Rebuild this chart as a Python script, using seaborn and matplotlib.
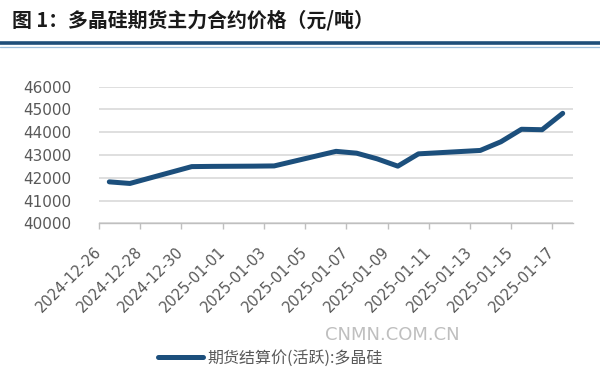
import matplotlib
matplotlib.use("Agg")
import matplotlib.pyplot as plt
import matplotlib.dates as mdates
from matplotlib.lines import Line2D
import seaborn as sns
import pandas as pd

# ---- data ----
dates = ["2024-12-26", "2024-12-27", "2024-12-30", "2024-12-31", "2025-01-02",
         "2025-01-03", "2025-01-06", "2025-01-07", "2025-01-08", "2025-01-09",
         "2025-01-10", "2025-01-13", "2025-01-14", "2025-01-15", "2025-01-16",
         "2025-01-17"]
prices = [41820, 41750, 42490, 42500, 42510,
          42520, 43160, 43080, 42830, 42510,
          43050, 43200, 43580, 44130, 44110,
          44830]
tick_labels = ["2024-12-26", "2024-12-28", "2024-12-30", "2025-01-01",
               "2025-01-03", "2025-01-05", "2025-01-07", "2025-01-09",
               "2025-01-11", "2025-01-13", "2025-01-15", "2025-01-17"]
y_ticks = [40000, 41000, 42000, 43000, 44000, 45000, 46000]
series_name = "期货结算价(活跃):多晶硅"
title = "图 1：多晶硅期货主力合约价格（元/吨）"

sns.set_theme(style="white")
plt.rcParams["font.family"] = ["Noto Sans CJK SC", "DejaVu Sans"]

fig = plt.figure(figsize=(6.0, 3.87), dpi=100)
ax = fig.add_axes([0.165, 0.423, 0.79, 0.353])

df = pd.DataFrame({"date": pd.to_datetime(dates), "price": prices})
line_color = "#1c4f7c"
sns.lineplot(data=df, x="date", y="price", ax=ax, color=line_color,
             linewidth=3.6, label=series_name, legend=False)

# axes
half = pd.Timedelta(hours=12)
tick_pos = mdates.date2num(pd.to_datetime(tick_labels) - half)
ax.set_xticks(tick_pos)
ax.set_xticklabels(tick_labels, rotation=45, ha="right", va="center",
                   rotation_mode="anchor", color="#595959", fontsize=10.5,
                   family=["DejaVu Sans"])
ax.set_xlim(mdates.date2num(pd.Timestamp(tick_labels[0]) - half),
            mdates.date2num(pd.Timestamp(tick_labels[-1]) + half))
ax.set_ylim(y_ticks[0], y_ticks[-1])
ax.set_yticks(y_ticks)
ax.set_yticklabels([str(v) for v in y_ticks], color="#595959", fontsize=11,
                   family=["DejaVu Sans"])
ax.set_xlabel("")
ax.set_ylabel("")
ax.grid(axis="y", color="#d9d9d9", linewidth=1.2)
ax.grid(axis="x", visible=False)
for s in ["top", "right", "left"]:
    ax.spines[s].set_visible(False)
ax.spines["bottom"].set_color("#bfbfbf")
ax.spines["bottom"].set_linewidth(1.0)
ax.tick_params(axis="x", direction="out", length=4, width=1, color="#bfbfbf", pad=15, bottom=True)
ax.tick_params(axis="y", length=0, pad=20)

# title and rule
fig.text(0.02, 1 - 20 / 387, title, fontsize=14.3, fontweight="bold",
         color="#1a1a1a", va="center", ha="left")
fig.add_artist(Line2D([0, 1], [1 - 43.3 / 387] * 2, color="#1f4e79", linewidth=2.6,
                      transform=fig.transFigure))
fig.add_artist(Line2D([0, 1], [1 - 47 / 387] * 2, color="#9dbfdc", linewidth=0.9,
                      transform=fig.transFigure))

# legend
h = [Line2D([], [], color=line_color, linewidth=3.6)]
fig.legend(h, [series_name], loc="center left", bbox_to_anchor=(158 / 600, 1 - 358 / 387),
           frameon=False, fontsize=11.5, handlelength=2.8, handletextpad=0.3,
           borderpad=0, borderaxespad=0, labelcolor="#595959")

# watermark
fig.text(392 / 600, 1 - 335 / 387, "CNMN.COM.CN", fontsize=13, color="#b8b8b8",
         ha="center", va="center", family=["DejaVu Sans"], alpha=0.9)

fig.savefig("out.png", dpi=100)
